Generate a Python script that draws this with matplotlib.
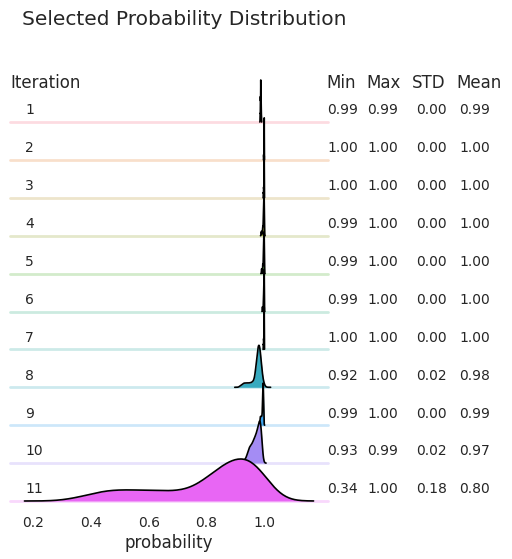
import numpy as np
import matplotlib
matplotlib.use("Agg")
import matplotlib.pyplot as plt
import seaborn as sns

# ---------------- data ----------------
iterations = [1, 2, 3, 4, 5, 6, 7, 8, 9, 10, 11]

iter01_values = [0.986, 0.987, 0.988, 0.989, 0.990]
iter01_counts = [1, 3, 5, 3, 1]
iter02_values = [0.998, 0.999, 1.000]
iter02_counts = [1, 3, 8]
iter03_values = [0.997, 0.998, 0.999, 1.000]
iter03_counts = [1, 2, 4, 8]
iter04_values = [0.990, 0.993, 0.995, 0.997, 0.998, 0.999, 1.000]
iter04_counts = [1, 1, 2, 3, 4, 5, 6]
iter05_values = [0.991, 0.995, 0.997, 0.998, 0.999, 1.000]
iter05_counts = [1, 2, 3, 4, 5, 6]
iter06_values = [0.994, 0.997, 0.998, 0.999, 1.000]
iter06_counts = [1, 2, 3, 5, 8]
iter07_values = [0.997, 0.998, 0.999, 1.000]
iter07_counts = [1, 2, 4, 8]
iter08_values = [0.92, 0.93, 0.94, 0.95, 0.96, 0.97, 0.975, 0.98, 0.985, 0.99, 0.995, 1.00]
iter08_counts = [2, 4, 4, 4, 5, 8, 14, 24, 22, 10, 3, 1]
iter09_values = [0.986, 0.988, 0.990, 0.992, 0.994, 0.995, 0.996, 0.997, 0.998]
iter09_counts = [2, 2, 2, 2, 3, 4, 6, 5, 2]
iter10_values = [0.930, 0.935, 0.940, 0.945, 0.950, 0.955, 0.960, 0.965, 0.970,
                 0.975, 0.980, 0.985, 0.990]
iter10_counts = [1, 1, 2, 4, 5, 5, 6, 7, 8, 9, 11, 14, 12]
iter11_values = [0.34, 0.37, 0.40, 0.43, 0.46, 0.49, 0.52, 0.55, 0.58, 0.61, 0.64, 0.67,
                 0.70, 0.73, 0.76, 0.79, 0.82, 0.85, 0.88, 0.91, 0.94, 0.97, 1.00]
iter11_counts = [10, 10, 18, 29, 31, 31, 31, 30, 29, 29, 28, 28,
                 26, 25, 32, 55, 78, 95, 115, 128, 132, 124, 92]

min_vals = [0.99, 1.00, 1.00, 0.99, 0.99, 0.99, 1.00, 0.92, 0.99, 0.93, 0.34]
max_vals = [0.99, 1.00, 1.00, 1.00, 1.00, 1.00, 1.00, 1.00, 1.00, 0.99, 1.00]
std_vals = [0.00, 0.00, 0.00, 0.00, 0.00, 0.00, 0.00, 0.02, 0.00, 0.02, 0.18]
mean_vals = [0.99, 1.00, 1.00, 1.00, 1.00, 1.00, 1.00, 0.98, 0.99, 0.97, 0.80]

stat_headers = ["Min", "Max", "STD", "Mean"]
xtick_values = [0.2, 0.4, 0.6, 0.8, 1.0]

all_values = [iter01_values, iter02_values, iter03_values, iter04_values, iter05_values,
              iter06_values, iter07_values, iter08_values, iter09_values, iter10_values,
              iter11_values]
all_counts = [iter01_counts, iter02_counts, iter03_counts, iter04_counts, iter05_counts,
              iter06_counts, iter07_counts, iter08_counts, iter09_counts, iter10_counts,
              iter11_counts]

# ---------------- style / layout ----------------
sns.set_theme(style="white")
plt.rcParams['font.family'] = ['DejaVu Sans']
TEXT = '#262626'
BW = 0.28

W, H = 512, 559
fig = plt.figure(figsize=(W / 100, H / 100), dpi=100)
fig.patch.set_facecolor('white')

pal = sns.color_palette("husl", len(iterations) + 1)

AX_L, AX_R = 10, 328
BASE0, STEP = 122, 37.9
AX_H = 44.1

axes = []
n = len(iterations)
for i in range(n):
    base = BASE0 + STEP * i
    ax = fig.add_axes([AX_L / W, (H - base) / H, (AX_R - AX_L) / W, AX_H / H],
                      sharex=axes[0] if axes else None)
    ax.set_facecolor((0, 0, 0, 0))
    sns.kdeplot(x=all_values[i], weights=all_counts[i], bw_method=BW, fill=True,
                alpha=1, color=pal[i], linewidth=0, clip_on=False, ax=ax, zorder=1)
    sns.kdeplot(x=all_values[i], weights=all_counts[i], bw_method=BW,
                color='black', linewidth=1.2, clip_on=False, ax=ax, zorder=2)
    peak = max(l.get_ydata().max() for l in ax.lines)
    ax.axhline(0, color=pal[i], alpha=0.25, lw=2, clip_on=False, zorder=0)
    ax.set_ylim(0, peak * 1.05)
    ax.set_yticks([])
    ax.set_ylabel('')
    ax.set_xlabel('')
    for s in ax.spines.values():
        s.set_visible(False)
    ax.tick_params(axis='x', length=0, labelbottom=(i == n - 1), pad=10.9,
                   labelsize=10, labelcolor=TEXT)
    axes.append(ax)

axes[-1].set_xticks(xtick_values)
axes[-1].set_xticklabels([f"{v:.1f}" for v in xtick_values])
axes[-1].set_xlabel("probability", fontsize=12, color=TEXT)
axes[-1].xaxis.set_label_coords(0.5, -(534 - (BASE0 + STEP * (n - 1))) / AX_H)


def fig_text(x_px, y_px, s, **kw):
    fig.text(x_px / W, 1 - y_px / H, s, color=TEXT, va='baseline', ha='left', **kw)


fig_text(22, 25, "Selected Probability Distribution", fontsize=14.5)
fig_text(10, 88, "Iteration", fontsize=12)
header_x = [326.7, 366.7, 412.2, 456.7]
for name, x in zip(stat_headers, header_x):
    fig_text(x, 88, name, fontsize=12)

value_x = [327.4, 367.4, 415.8, 459.1]
for i, it in enumerate(iterations):
    y = BASE0 + STEP * i - 7.7
    fig_text(25, y, str(it), fontsize=10)
    for x, v in zip(value_x, [min_vals[i], max_vals[i], std_vals[i], mean_vals[i]]):
        fig_text(x, y, f"{v:.2f}", fontsize=10)

fig.savefig("out.png", dpi=100)
